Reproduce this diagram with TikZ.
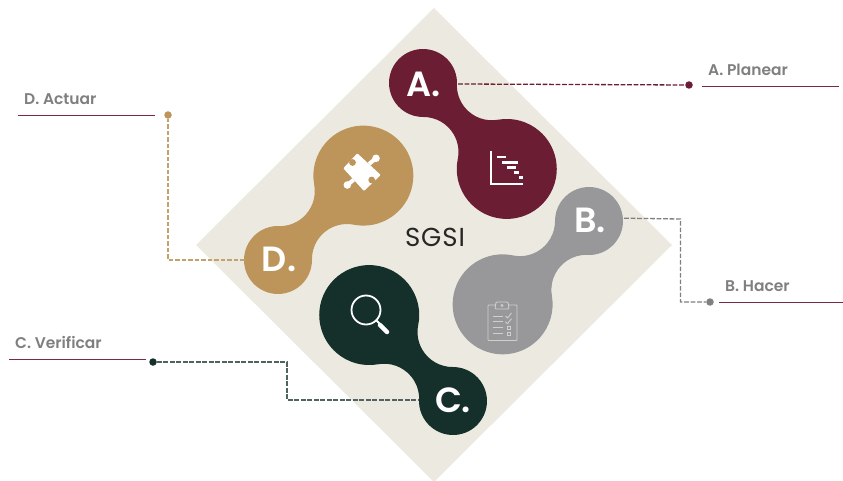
\documentclass[tikz,border=0pt]{standalone}
\usepackage{fontspec}
\setmainfont{Poppins}[UprightFont=* Medium,BoldFont=* SemiBold]
\newfontfamily\sgsifont{Poppins}[LetterSpace=3.5]
\definecolor{cA}{HTML}{6B1D33}
\definecolor{cB}{HTML}{98989A}
\definecolor{cC}{HTML}{15302A}
\definecolor{cD}{HTML}{BD955B}
\definecolor{cBg}{HTML}{ECEAE0}
\definecolor{cRule}{HTML}{7A2B40}
\definecolor{cLab}{HTML}{7F7F7F}
\definecolor{cClip}{HTML}{CFCFCF}
\newcommand{\blobshape}[4]{%
  \begin{scope}[shift={(#2,#3)},rotate=#4]
  \fill[#1] (43.9:34pt) arc[start angle=43.9,end angle=316.1,radius=34pt]
    arc[start angle=136.1,end angle=34.2,radius=35pt]
    arc[start angle=214.2,end angle=505.8,radius=50pt]
    arc[start angle=325.8,end angle=223.9,radius=35pt] -- cycle;
  \end{scope}}
\tikzset{
  head/.style={circle,minimum size=68pt,inner sep=0pt,text=white,font=\fontsize{35}{35}\selectfont\bfseries},
  lab/.style={text=cLab,font=\fontsize{15.5}{16}\selectfont\bfseries,inner sep=0pt},
  rule/.style={draw=cRule,line width=1.6pt},
  link/.style={line width=1.3pt,dash pattern=on 4.6pt off 1.9pt},
  dot/.style={circle,minimum size=7.5pt,inner sep=0pt,fill=#1},
  icon/.style={draw=white,line width=1.8pt},
  clip line/.style={draw=cClip,line width=0.9pt}
}
\begin{document}
\begin{tikzpicture}[x=1pt,y=-1pt]
\useasboundingbox (0,0) rectangle (843,481);
\fill[cBg] (434,8) -- (672,245) -- (434,482) -- (196,245) -- cycle;
\blobshape{cA}{423}{83}{-45.7}
\blobshape{cD}{278}{260}{44.7}
\blobshape{cB}{589}{221}{224}
\blobshape{cC}{453}{401}{134.3}
\node[head] (A) at (424,84) {A.};
\node[head] (B) at (590,220) {B.};
\node[head] (C) at (453,400) {C.};
\node[head] (D) at (279,260) {\raisebox{2pt}{D.}};
\node[text=black!85,font=\fontsize{26}{26}\sgsifont,inner sep=0pt] (S) at (435,237) {SGSI};
% end dots
\node[dot=cA] (dA) at (689,85) {};
\node[dot=gray] (dB) at (710,302) {};
\node[dot=cC] (dC) at (153,362) {};
\node[dot=cD] (dD) at (168,115) {};
% connectors
\draw[link,cA] (A.east) -- (dA);
\draw[link,gray] (B.3) -- (680.5,219) -- (680.5,302) -- (dB);
\draw[link,cC!75!white] (dC) -- (287,362) -- (287,400) -- (C.west);
\draw[link,cD!90!white] (D.west) -- (168,260) -- (dD);
% labels and rules
\node[lab,anchor=west] (lA) at (708,70) {A. Planear};
\node[lab,anchor=west] (lB) at (725,286) {B. Hacer};
\node[lab,anchor=west] (lC) at (15,342) {C. Verificar};
\node[lab,anchor=west] (lD) at (24,99) {D. Actuar};
\coordinate (rA1) at (702,86.5); \coordinate (rA2) at (839,86.5);
\coordinate (rB1) at (719,302.5); \coordinate (rB2) at (843,302.5);
\coordinate (rC1) at (9,359.5); \coordinate (rC2) at (146,359.5);
\coordinate (rD1) at (18,115.5); \coordinate (rD2) at (155,115.5);
\draw[rule] (rA1) -- (rA2);
\draw[rule] (rB1) -- (rB2);
\draw[rule] (rC1) -- (rC2);
\draw[rule] (rD1) -- (rD2);
% Gantt icon
\draw[icon] (491,151) -- (491,184) -- (523,184);
\foreach \a/\b/\y in {497/506/157,502/518/162.5,507/516/167.5,514/519/172.5,519/523/177.5}
  \draw[white,line width=2.2pt] (\a,\y) -- (\b,\y);
% magnifier
\draw[white,line width=1.8pt] (366,310) circle[radius=14.5pt];
\draw[white,line width=1.8pt] (376.5,320.5) -- (380,324);
\draw[white,line width=4.5pt,line cap=round] (380,325) -- (387,332);
% puzzle
\fill[white,rounded corners=0.8pt] (343.3,168.3) -- (357.3,153.3) -- (380.7,175) -- (364,191) -- cycle;
\draw[white,line width=4pt] (369,164) -- (376,158.3);
\fill[white] (376,158.3) circle[radius=3.8pt];
\draw[white,line width=4pt] (353.7,179.7) -- (347.3,185);
\fill[white] (347.3,185) circle[radius=3.8pt];
\fill[cD] (371.7,180) circle[radius=3.4pt];
\fill[cD] (352.5,162.5) circle[radius=3.4pt];
% clipboard
\draw[clip line,rounded corners=0.8pt] (495,305) -- (488,305) -- (488,340.5) -- (517,340.5) -- (517,305) -- (509,305);
\draw[clip line,rounded corners=1pt] (495,309) -- (496,302) -- (508,302) -- (509,309) -- cycle;
\draw[cClip,line width=0.6pt] (502,305.5) circle[radius=1.1pt];
\foreach \y in {316,321.7,327.7,333.7} \draw[clip line] (492.7,\y) -- (502.7,\y);
\foreach \y in {316,321.7} \draw[clip line] (505.5,\y) -- (507.5,\y+2) -- (511.5,\y-3);
\foreach \y in {327.7,333.7} \draw[clip line] (507.5,\y-1.5) rectangle (510.5,\y+1.5);
\end{tikzpicture}
\end{document}
